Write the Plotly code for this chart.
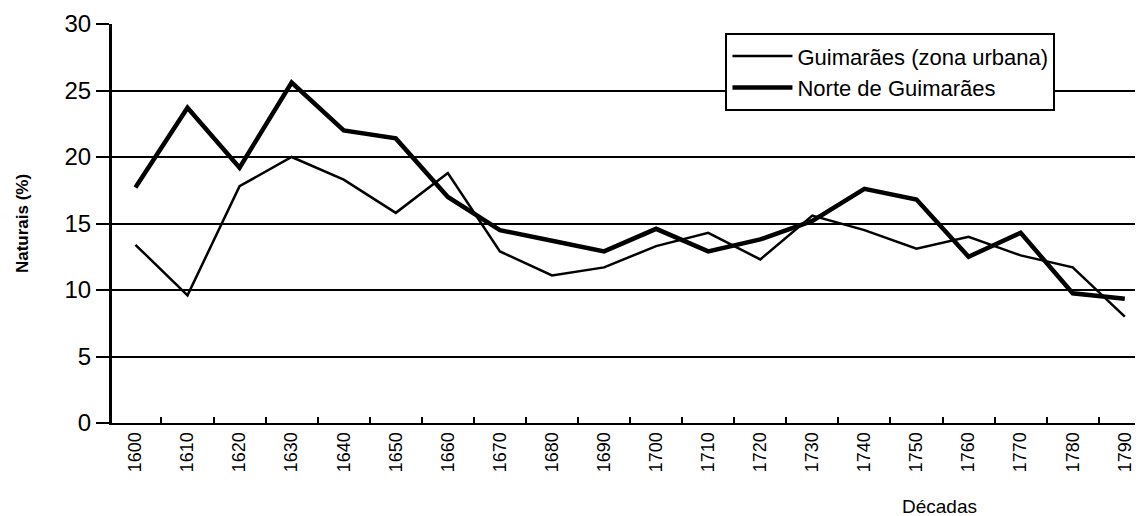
import plotly.graph_objects as go

decades = ["1600", "1610", "1620", "1630", "1640", "1650", "1660", "1670", "1680", "1690",
           "1700", "1710", "1720", "1730", "1740", "1750", "1760", "1770", "1780", "1790"]
guimaraes_urbana = [13.4, 9.6, 17.8, 20.0, 18.3, 15.8, 18.8, 12.9, 11.1, 11.7,
                    13.3, 14.3, 12.3, 15.6, 14.5, 13.1, 14.0, 12.6, 11.7, 8.0]
norte_guimaraes = [17.7, 23.7, 19.2, 25.6, 22.0, 21.4, 17.0, 14.5, 13.7, 12.9,
                   14.6, 12.9, 13.8, 15.2, 17.6, 16.8, 12.5, 14.3, 9.75, 9.35]
y_ticks = [0, 5, 10, 15, 20, 25, 30]

FONT = "Arial, 'Liberation Sans', Helvetica, sans-serif"
idx = list(range(len(decades)))

fig = go.Figure()
fig.add_trace(go.Scatter(x=idx, y=guimaraes_urbana, mode="lines",
                         name="Guimarães (zona urbana)",
                         line=dict(color="black", width=2.5)))
fig.add_trace(go.Scatter(x=idx, y=norte_guimaraes, mode="lines",
                         name="Norte de Guimarães",
                         line=dict(color="black", width=4.5)))

fig.update_layout(
    width=1135, height=508,
    margin=dict(l=104, r=0, t=16, b=93, autoexpand=False),
    paper_bgcolor="white", plot_bgcolor="white",
    font=dict(family=FONT, color="black"),
    showlegend=True,
    legend=dict(x=0.595, y=0.977, xanchor="left", yanchor="top",
                bgcolor="white", bordercolor="black", borderwidth=2,
                font=dict(size=22, family=FONT, color="black"),
                itemwidth=60, tracegroupgap=0),
    xaxis=dict(
        range=[-0.45, 19.35], automargin=False,
        tickmode="array", tickvals=idx, ticktext=decades,
        tickangle=-90, ticks="", showgrid=False,
        tickfont=dict(size=18, family=FONT, color="black"),
        showline=True, linecolor="black", linewidth=2,
        zeroline=False,
        minor=dict(tickmode="array", tickvals=[i + 0.5 for i in idx[:-1]],
                   ticks="inside", ticklen=6, tickwidth=2, tickcolor="black",
                   showgrid=False),
    ),
    yaxis=dict(
        range=[0, 30], tickmode="array", tickvals=y_ticks, automargin=False,
        ticks="outside", ticklen=13, tickwidth=2, tickcolor="black",
        tickfont=dict(size=24, family=FONT, color="black"),
        showgrid=True, gridcolor="black", gridwidth=2,
        showline=True, linecolor="black", linewidth=3,
        zeroline=False,
        title=dict(text="Naturais (%)", standoff=32,
                   font=dict(size=17, family=FONT, color="black", weight="bold")),
    ),
    annotations=[dict(text="Décadas", xref="paper", yref="paper",
                      x=0.803, y=-0.21, xanchor="center", yanchor="middle",
                      showarrow=False,
                      font=dict(size=19, family=FONT, color="black"))],
)

fig.write_html("out.html")
